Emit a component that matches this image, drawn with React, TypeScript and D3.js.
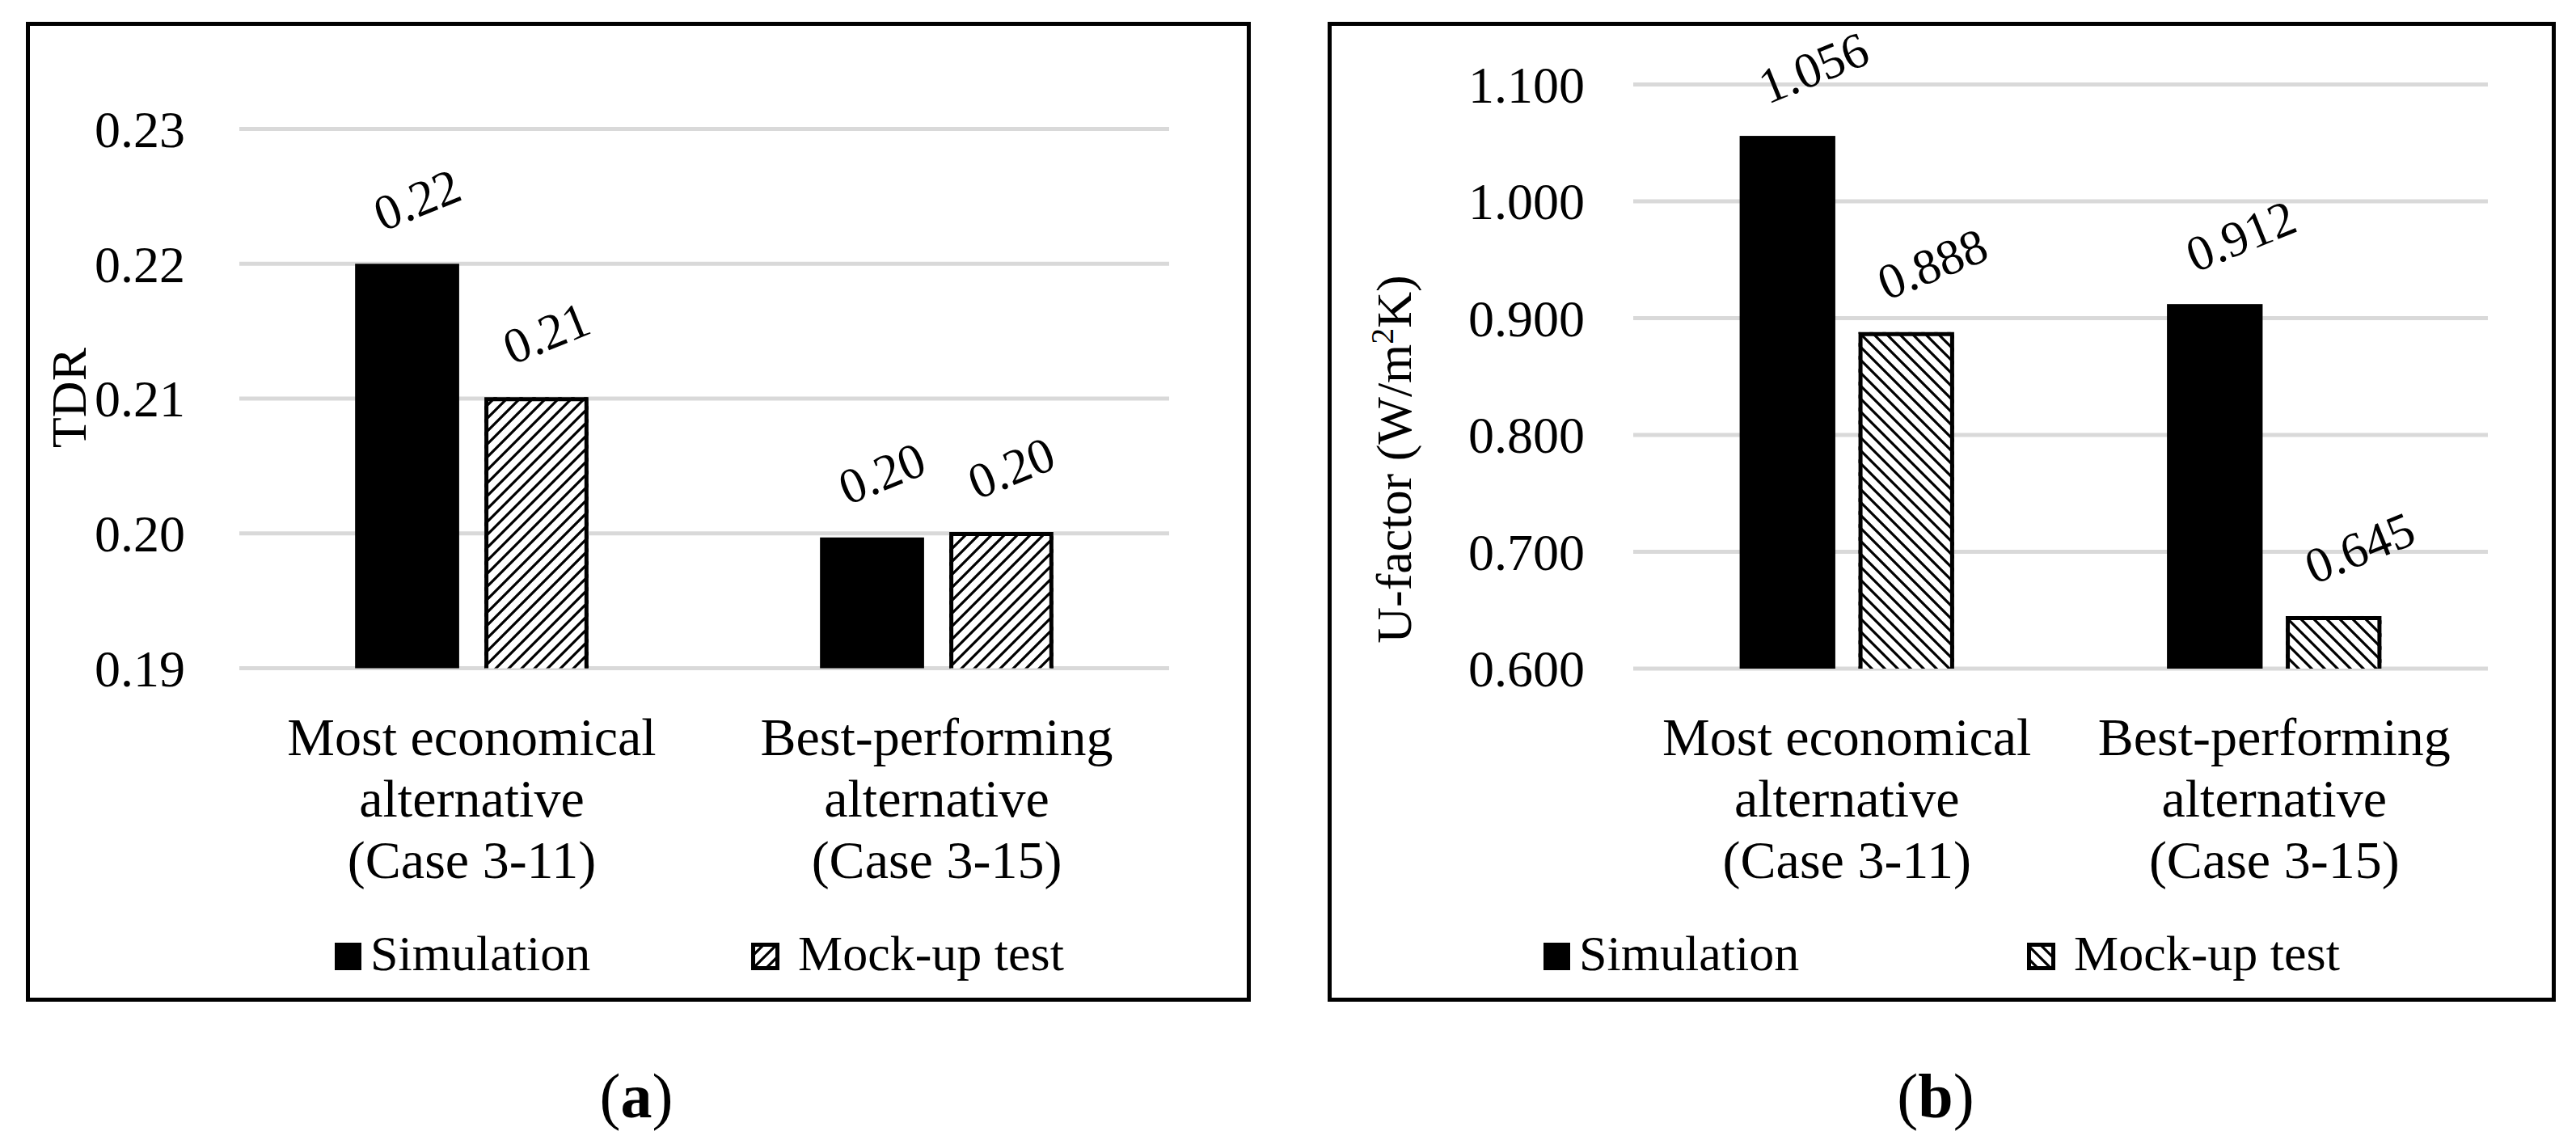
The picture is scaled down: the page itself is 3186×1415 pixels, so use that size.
import { useEffect } from 'react';
import * as d3 from 'd3';

const FONT = '"Liberation Serif", "Times New Roman", serif';

const categories = ['case311', 'case315'];
const categoryLines = [
  ['Most economical', 'alternative', '(Case 3-11)'],
  ['Best-performing', 'alternative', '(Case 3-15)'],
];
const seriesNames = ['Simulation', 'Mock-up test'];

const tdrSimulation = [0.2200, 0.1997];
const tdrMockup = [0.2101, 0.2001];
const tdrTicks = [0.19, 0.20, 0.21, 0.22, 0.23];

const uSimulation = [1.056, 0.912];
const uMockup = [0.888, 0.645];
const uTicks = [0.6, 0.7, 0.8, 0.9, 1.0, 1.1];

interface PanelProps {
  frame: [number, number, number, number];
  plotX: [number, number];
  plotY: [number, number];
  domain: [number, number];
  ticks: number[];
  tickFmt: (v: number) => string;
  tickRight: number;
  sim: number[];
  mock: number[];
  valueFmt: (v: number) => string;
  patternId: string;
  yTitle: React.ReactNode;
  yTitlePos: [number, number];
  labelOffset: [number, number];
  legendX: [number, number];
  caption: string;
  captionX: number;
}

function Panel(p: PanelProps) {
  const y = d3.scaleLinear().domain(p.domain).range(p.plotY);
  const x0 = d3.scaleBand().domain(categories).range(p.plotX).paddingInner(0.498).paddingOuter(0.249);
  const x1 = d3.scaleBand().domain(seriesNames).range([0, x0.bandwidth()]).paddingInner(0.195);
  const base = y(p.domain[0]);
  const [fx0, fy0, fx1, fy1] = p.frame;

  const bars = categories.flatMap((c, i) => [
    { c, s: seriesNames[0], v: p.sim[i] },
    { c, s: seriesNames[1], v: p.mock[i] },
  ]);

  return (
    <g>
      <rect x={fx0} y={fy0} width={fx1 - fx0} height={fy1 - fy0} fill="#fff" stroke="#000" strokeWidth={5} />
      {p.ticks.map(t => (
        <g key={t}>
          <line x1={p.plotX[0]} x2={p.plotX[1]} y1={y(t)} y2={y(t)} stroke="#d9d9d9" strokeWidth={5} />
          <text x={p.tickRight} y={y(t)} dy="0.35em" textAnchor="end" fontSize={64} fontFamily={FONT}>{p.tickFmt(t)}</text>
        </g>
      ))}
      <text transform={`translate(${p.yTitlePos[0]},${p.yTitlePos[1]}) rotate(-90)`} dy="0.35em" textAnchor="middle"
        fontSize={62} fontFamily={FONT}>{p.yTitle}</text>
      {bars.map(b => {
        const bx = x0(b.c)! + x1(b.s)!;
        const bw = x1.bandwidth();
        const top = y(b.v);
        const isSim = b.s === seriesNames[0];
        const cx = bx + bw / 2 + p.labelOffset[0];
        const cy = top - p.labelOffset[1];
        return (
          <g key={b.c + b.s}>
            {isSim ? (
              <rect x={bx} y={top} width={bw} height={base - top} fill="#000" />
            ) : (
              <>
                <rect x={bx} y={top} width={bw} height={base - top} fill={`url(#${p.patternId})`} />
                <path d={`M${bx + 2.5},${base} V${top + 2.5} H${bx + bw - 2.5} V${base}`} fill="none" stroke="#000" strokeWidth={5} />
              </>
            )}
            <text transform={`translate(${cx},${cy}) rotate(-22)`} dy="0.35em" textAnchor="middle"
              fontSize={62} fontFamily={FONT}>{p.valueFmt(b.v)}</text>
          </g>
        );
      })}
      {categories.map((c, i) => (
        <text key={c} textAnchor="middle" fontSize={66} fontFamily={FONT}>
          {categoryLines[i].map((ln, j) => (
            <tspan key={j} x={x0(c)! + x0.bandwidth() / 2} y={934 + j * 76}>{ln}</tspan>
          ))}
        </text>
      ))}
      {seriesNames.map((s, i) => (
        <g key={s} transform={`translate(${p.legendX[i]},1200)`}>
          {i === 0 ? (
            <rect x={0} y={-34} width={33} height={34} fill="#000" />
          ) : (
            <rect x={2.5} y={-31.5} width={30} height={29} fill={`url(#${p.patternId})`} stroke="#000" strokeWidth={5} />
          )}
          <text x={i === 0 ? 44 : 58} y={0} fontSize={62} fontFamily={FONT}>{s}</text>
        </g>
      ))}
      <text x={p.captionX} y={1382} textAnchor="middle" fontSize={78} fontFamily={FONT}>
        (<tspan fontWeight="bold">{p.caption}</tspan>)
      </text>
    </g>
  );
}

export default function App() {
  useEffect(() => {
    document.body.style.margin = '0';
    document.body.style.overflow = 'hidden';
  }, []);

  return (
    <svg width={3186} height={1415} style={{ display: 'block', background: '#fff' }}>
      <defs>
        <pattern id="upDiag" width={16} height={16} patternUnits="userSpaceOnUse">
          <rect width={16} height={16} fill="#fff" />
          <path d="M-4,4 L4,-4 M0,16 L16,0 M12,20 L20,12" stroke="#000" strokeWidth={3.2} />
        </pattern>
        <pattern id="downDiag" width={16} height={16} patternUnits="userSpaceOnUse">
          <rect width={16} height={16} fill="#fff" />
          <path d="M-4,12 L4,20 M0,0 L16,16 M12,-4 L20,4" stroke="#000" strokeWidth={3.2} />
        </pattern>
      </defs>
      <Panel
        frame={[34.5, 29.5, 1544.5, 1236.5]}
        plotX={[296, 1446]}
        plotY={[826.5, 159.5]}
        domain={[0.19, 0.23]}
        ticks={tdrTicks}
        tickFmt={v => v.toFixed(2)}
        tickRight={229}
        sim={tdrSimulation}
        mock={tdrMockup}
        valueFmt={v => v.toFixed(2)}
        patternId="upDiag"
        yTitle="TDR"
        yTitlePos={[84, 492]}
        labelOffset={[12, 80]}
        legendX={[414, 929]}
        caption="a"
        captionX={787}
      />
      <Panel
        frame={[1644.5, 29.5, 3158.5, 1236.5]}
        plotX={[2020, 3077]}
        plotY={[827, 104.5]}
        domain={[0.6, 1.1]}
        ticks={uTicks}
        tickFmt={v => v.toFixed(3)}
        tickRight={1960}
        sim={uSimulation}
        mock={uMockup}
        valueFmt={v => v.toFixed(3)}
        patternId="downDiag"
        yTitle={<>U-factor (W/m<tspan dy="-22" fontSize={40}>2</tspan><tspan dy="22">K)</tspan></>}
        yTitlePos={[1723, 568]}
        labelOffset={[32, 85]}
        legendX={[1909, 2507]}
        caption="b"
        captionX={2394}
      />
    </svg>
  );
}
